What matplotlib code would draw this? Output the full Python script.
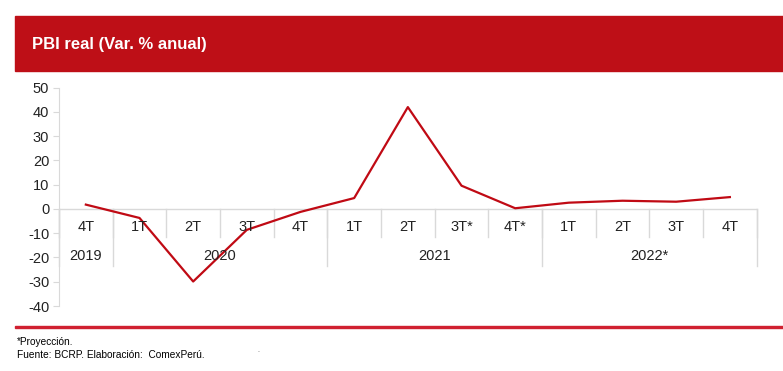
import matplotlib
matplotlib.use("Agg")
from matplotlib import pyplot as plt
from matplotlib.patches import Rectangle
import numpy as np

plt.rcParams['font.family'] = ['Liberation Sans', 'DejaVu Sans']

# data
quarters = ['4T', '1T', '2T', '3T', '4T', '1T', '2T', '3T*', '4T*', '1T', '2T', '3T', '4T']
values = [1.8, -3.7, -29.9, -8.6, -1.2, 4.5, 42.0, 9.6, 0.3, 2.6, 3.4, 3.0, 4.9]
years = ['2019', '2020', '2021', '2022*']
year_sizes = [1, 4, 4, 4]
yticks = list(range(-40, 60, 10))

RED = '#BE0F17'
GRAY = '#D9D9D9'

W, H = 783, 371
fig = plt.figure(figsize=(W / 100, H / 100), dpi=100)

# header bar
fig.patches.append(Rectangle((15 / W, 1 - 71 / H), 1 - 15 / W, 55 / H,
                             transform=fig.transFigure, color=RED, zorder=0))
fig.text(32 / W, 1 - 45 / H, 'PBI real (Var. % anual)', color='white',
         fontsize=12, fontweight='bold', va='center', ha='left')

# footer line and notes
fig.patches.append(Rectangle((15 / W, 1 - 328 / H), 1 - 15 / W, 2 / H,
                             transform=fig.transFigure, color='#D02030', zorder=0))
fig.text(17 / W, 1 - 342 / H, '*Proyección.', fontsize=7.3, va='center')
fig.text(17 / W, 1 - 354.5 / H, 'Fuente: BCRP. Elaboración:  ComexPerú.', fontsize=7.3, va='center')
fig.text(257 / W, 1 - 351 / H, '.', fontsize=5, va='center', color='#555555')

# axes
left, right = 59 / W, 756.7 / W
bottom, top = 1 - 306 / H, 1 - 87.7 / H
ax = fig.add_axes([left, bottom, right - left, top - bottom])
x = np.arange(len(quarters))
ax.plot(x, values, color='#C00A14', lw=1.6, zorder=3, clip_on=False)

ax.set_xlim(-0.5, len(quarters) - 0.5)
ax.set_ylim(-40, 50)
ax.set_yticks(yticks)
ax.set_yticklabels([str(t) for t in yticks], fontsize=10.5, color='#222222')
ax.tick_params(axis='y', length=4, color=GRAY, pad=3)
ax.set_xticks([])
for s in ['top', 'right', 'bottom']:
    ax.spines[s].set_visible(False)
ax.spines['left'].set_color(GRAY)

# category axis at zero
ax.axhline(0, color=GRAY, lw=1, zorder=1)
px = 90 / 219.  # data units per pixel
for i in range(len(quarters) + 1):
    ax.plot([i - 0.5, i - 0.5], [0, -28.5 * px], color=GRAY, lw=1, zorder=1, clip_on=False)
for i, q in enumerate(quarters):
    ax.text(i, -18.5 * px, q, ha='center', va='center', fontsize=10.5, color='#222222')

start = 0
for y, n in zip(years, year_sizes):
    ax.plot([start - 0.5, start - 0.5], [0, -57.5 * px], color=GRAY, lw=1, zorder=1, clip_on=False)
    ax.text(start + (n - 1) / 2, -47.5 * px, y, ha='center', va='center', fontsize=10.5, color='#222222')
    start += n
ax.plot([start - 0.5, start - 0.5], [0, -57.5 * px], color=GRAY, lw=1, zorder=1, clip_on=False)

fig.savefig('out.png', dpi=100)
